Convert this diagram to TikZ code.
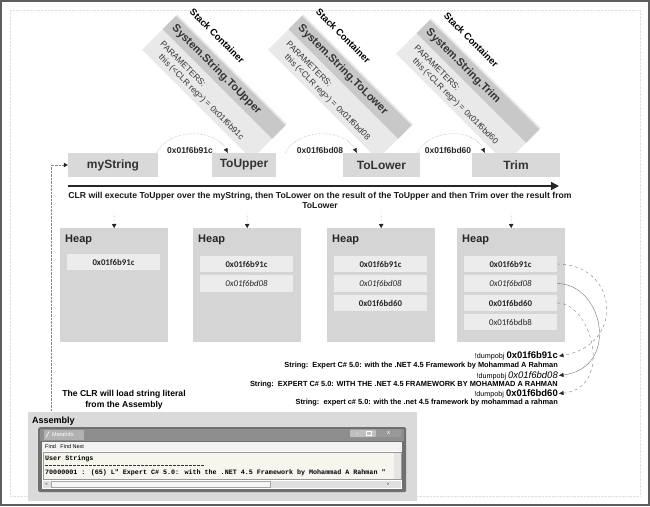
\documentclass[tikz,border=0pt]{standalone}
\usepackage{fontspec}
\setmainfont{Liberation Sans}
\newfontfamily\calib{Carlito}
\newfontfamily\monof{Liberation Mono}
\usetikzlibrary{arrows.meta}
\newcommand\myfs[1]{\fontsize{#1}{#1}\selectfont}
\definecolor{framec}{HTML}{5E5E5E}
\definecolor{flowfill}{HTML}{D9D9D9}
\definecolor{flowtext}{HTML}{333333}
\definecolor{heapfill}{HTML}{D5D5D5}
\definecolor{entryfill}{HTML}{ECECEC}
\definecolor{contlight}{HTML}{E9E9E9}
\definecolor{contdark}{HTML}{C8C8C8}
\definecolor{asmpanel}{HTML}{DADADA}
\definecolor{winframe}{HTML}{707070}
\definecolor{titlebar}{HTML}{8E8E8E}
\definecolor{textarea}{HTML}{F6F6EE}
\newcommand\stackcont[5]{%
\begin{scope}[shift={(#2,#3)},rotate=-45]
\fill[contlight] (-3,-38) rectangle (152,12);
\fill[contdark] (-3,-9) rectangle (152,10);
\node[ctext,font=\myfs{9.5}\bfseries] (#1-t) at (4,25) {Stack Container};
\node[ctext,font=\myfs{11}\bfseries,text=black!80] (#1-m) at (3,0.5) {System.String.#4};
\node[ctext,font=\myfs{8.5},text=black!80] (#1-p) at (6,-19) {PARAMETERS:};
\node[ctext,font=\myfs{8.5},text=black!80] (#1-a) at (14,-30) {this (<CLR reg>) = #5};
\end{scope}}
\begin{document}
\begin{tikzpicture}[x=1pt,y=1pt,
  ctext/.style={rotate=-45,anchor=west,inner sep=0pt},
  flow/.style={fill=flowfill,text=flowtext,font=\myfs{12}\bfseries,minimum height=24pt,inner sep=0pt},
  heapbox/.style={fill=heapfill,anchor=north west,minimum width=108pt,minimum height=114pt,inner sep=0pt},
  heaplabel/.style={font=\myfs{11}\bfseries,text=black!85,anchor=west,inner sep=0pt},
  entry/.style={fill=entryfill,minimum width=93pt,minimum height=16.5pt,inner sep=0pt,text=black!85},
  eb/.style={entry,font=\calib\myfs{8.8}\bfseries},
  ei/.style={entry,font=\calib\myfs{8.8}\itshape},
  er/.style={entry,font=\calib\myfs{8.8}},
  arclbl/.style={font=\myfs{8.5}\bfseries,text=black!85,inner sep=0pt},
  arcline/.style={densely dotted,black!45,-{Triangle[length=4.5pt,width=4pt,color=black!85]}},
  vdown/.style={densely dotted,black!45,-{Triangle[length=4pt,width=4.5pt,color=black!85]}},
  curv/.style={dashed,black!50,-{Triangle[length=4.5pt,width=4pt,color=black!85]}},
  curvs/.style={black!55,-{Triangle[length=4.5pt,width=4pt,color=black!85]}},
  strline/.style={anchor=east,inner sep=0pt,font=\myfs{7.4}\bfseries},
  dump/.style={anchor=east,inner sep=0pt,font=\myfs{7.2}},
]
\useasboundingbox (0,0) rectangle (650,-506);
% frame
\draw[framec,line width=2pt] (1,-1) rectangle (649,-505);
\draw[black!12,densely dotted] (10,-10) rectangle (640,-496);

% stack containers
\stackcont{sc1}{171}{-25}{ToUpper}{0x01f6b91c}
\stackcont{sc2}{297}{-25}{ToLower}{0x01f6bd08}
\stackcont{sc3}{425}{-29}{Trim}{0x01f6bd60}

% flow boxes
\node[flow,minimum width=90pt] (mystr) at (113,-165) {myString};
\node[flow,minimum width=64pt] (toup) at (244,-165) {ToUpper};
\node[flow,minimum width=77pt] (tolow) at (381.5,-165) {ToLower};
\node[flow,minimum width=88pt] (trim) at (516,-165) {Trim};

% arcs between boxes
\draw[arcline] ([xshift=-2pt]mystr.north east) .. controls (170,-128) and (214,-128) .. ([xshift=16pt]toup.north west);
\draw[arcline] ([xshift=9pt]toup.north east) .. controls (298,-128) and (344,-128) .. ([xshift=14pt]tolow.north west);
\draw[arcline] ([xshift=-3pt]tolow.north east) .. controls (430,-128) and (474,-128) .. ([xshift=13pt]trim.north west);
\node[arclbl] (l1) at (190,-150) {0x01f6b91c};
\node[arclbl] (l2) at (320,-150) {0x01f6bd08};
\node[arclbl] (l3) at (448,-150) {0x01f6bd60};

% main arrow
\coordinate (ma) at (68,-186);
\coordinate (mb) at (559,-186);
\draw[black!85,line width=1.6pt,-{Triangle[length=8pt,width=8pt]}] (ma) -- (mb);
\node[font=\myfs{8.65}\bfseries,align=center,inner sep=0pt,text=black!90] (clr) at (320,-200)
  {CLR will execute ToUpper over the myString, then ToLower on the result of the ToUpper and then Trim over the result from\\[1.5pt]ToLower};

% heaps
\node[heapbox] (heap1) at (60,-228) {};
\node[heapbox] (heap2) at (193,-228) {};
\node[heapbox] (heap3) at (327,-228) {};
\node[heapbox] (heap4) at (457,-228) {};
\node[heaplabel] (hl1) at (65,-240) {Heap};
\node[heaplabel] (hl2) at (198,-240) {Heap};
\node[heaplabel] (hl3) at (332,-240) {Heap};
\node[heaplabel] (hl4) at (462,-240) {Heap};

\node[eb] (h1e1) at (113.5,-262) {0x01f6b91c};
\node[eb] (h2e1) at (246.5,-264) {0x01f6b91c};
\node[ei] (h2e2) at (246.5,-283.5) {0x01f6bd08};
\node[eb] (h3e1) at (380.5,-264) {0x01f6b91c};
\node[ei] (h3e2) at (380.5,-283.5) {0x01f6bd08};
\node[eb] (h3e3) at (380.5,-303) {0x01f6bd60};
\node[eb] (h4e1) at (510.5,-264) {0x01f6b91c};
\node[ei] (h4e2) at (510.5,-283.5) {0x01f6bd08};
\node[eb] (h4e3) at (510.5,-303) {0x01f6bd60};
\node[er] (h4e4) at (510.5,-322) {0x01f6bdb8};

% vertical arrows
\coordinate (v1) at (114,-212);
\coordinate (v2) at (247,-212);
\coordinate (v3) at (381,-212);
\coordinate (v4) at (511,-212);
\draw[vdown] (v1) -- (heap1.north);
\draw[vdown] (v2) -- (heap2.north);
\draw[vdown] (v3) -- (heap3.north);
\draw[vdown] (v4) -- (heap4.north);

% dumpobj
\node[dump] (d1) at (558,-356) {!dumpobj {\myfs{9.5}\bfseries 0x01f6b91c}};
\node[strline] (s1) at (558,-365.5) {String:\ \ Expert C\# 5.0: with the .NET 4.5 Framework by Mohammad A Rahman};
\node[dump] (d2) at (558,-375.5) {!dumpobj {\myfs{9.5}\itshape 0x01f6bd08}};
\node[strline] (s2) at (558,-384.5) {String:\ \ EXPERT C\# 5.0: WITH THE .NET 4.5 FRAMEWORK BY MOHAMMAD A RAHMAN};
\node[dump] (d3) at (558,-393.5) {!dumpobj {\myfs{9.5}\bfseries 0x01f6bd60}};
\node[strline] (s3) at (558,-403) {String:\ \ expert c\# 5.0: with the .net 4.5 framework by mohammad a rahman};

\draw[curv] (h4e1.east) .. controls (618,-264) and (626,-345) .. ([xshift=1pt]d1.east);
\draw[curvs] (h4e2.east) .. controls (604,-284) and (620,-368) .. ([xshift=1pt]d2.east);
\draw[curv] (h4e3.east) .. controls (592,-303) and (614,-388) .. ([xshift=1pt]d3.east);

% left dotted connector
\coordinate (asmtop) at (51,-412);
\draw[densely dotted,black!45,-{Triangle[length=4pt,width=4.5pt,color=black!85]}] (asmtop) |- (mystr.west);

\node[font=\myfs{8.6}\bfseries,align=center,inner sep=0pt] (load) at (124,-400)
  {The CLR will load string literal\\[2pt]from the Assembly};

% assembly panel
\node[fill=asmpanel,anchor=north west,minimum width=389pt,minimum height=89pt,inner sep=0pt] (asm) at (28,-412) {};
\node[font=\myfs{9}\bfseries,anchor=west,inner sep=0pt] (asml) at (32,-421) {Assembly};
\node[fill=winframe,rounded corners=2pt,anchor=north west,minimum width=368pt,minimum height=65pt,inner sep=0pt] (win) at (38,-427) {};
\fill[titlebar] (40,-428.5) rectangle (404,-441);
\fill[black!30] (44,-429.5) rectangle (84,-439.5);
\node[font=\myfs{5.5},text=white,anchor=west,inner sep=0pt] (wtitle) at (52,-434.5) {MetaInfo};
\draw[white,line width=0.6pt] (46,-437.5) -- (49,-431.5);
\fill[black!25,rounded corners=1pt] (350,-429.5) rectangle (376,-437);
\fill[black!40,rounded corners=1pt] (376,-429.5) rectangle (401,-437);
\node[font=\myfs{5},text=white,inner sep=0pt] (bmin) at (357,-433.5) {\_};
\draw[white,line width=0.4pt] (366,-431) rectangle (371,-435.5);
\node[font=\myfs{6},text=white,inner sep=0pt] (bx) at (388.5,-433.3) {x};
\fill[white] (42,-442) rectangle (402,-488.5);
\fill[black!5] (42,-442) rectangle (402,-451);
\node[font=\myfs{5.5},anchor=west,inner sep=0pt] (menu) at (45,-446.5) {Find\ \ \ Find Next};
\draw[fill=textarea,draw=black!40,line width=0.4pt] (43,-452) rectangle (401,-479.5);
\fill[black!10] (394,-452.5) rectangle (400.5,-479);
\node[font=\monof\myfs{6.7}\bfseries,anchor=west,inner sep=0pt] (us) at (45,-458.5) {User Strings};
\draw[black!80,line width=0.7pt,dash pattern=on 2.8pt off 1.2pt] (45,-465.5) -- (205,-465.5);
\node[font=\monof\myfs{6.7}\bfseries,anchor=west,inner sep=0pt] (ul) at (45,-472.5) {70000001 : (65) L" Expert C\# 5.0: with the .NET 4.5 Framework by Mohammad A Rahman "};
\fill[black!12] (43,-480.5) rectangle (401,-487.5);
\draw[fill=black!4,draw=black!35,line width=0.4pt] (51,-481.2) rectangle (270,-486.8);
\node[font=\myfs{4},inner sep=0pt] (sl) at (46.5,-484) {<};
\node[font=\myfs{4},inner sep=0pt] (sr) at (388,-484) {>};
\end{tikzpicture}
\end{document}
